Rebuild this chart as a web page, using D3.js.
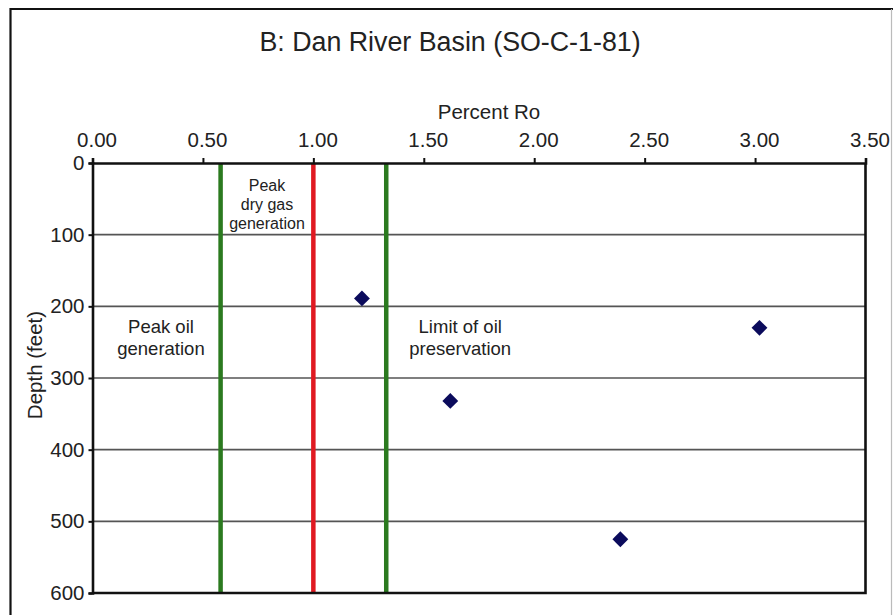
<!DOCTYPE html>
<html>
<head>
<meta charset="utf-8">
<script src="https://cdn.jsdelivr.net/npm/d3@7"></script>
<style>
  html, body { margin: 0; padding: 0; background: #fff; }
  svg { display: block; font-family: "Liberation Sans", Arial, sans-serif; }
</style>
</head>
<body>
<svg id="chart" width="893" height="615"></svg>
<script>
// Vitrinite reflectance samples: percent Ro vs. depth (feet)
const sampleRo    = [1.22, 3.02, 1.62, 2.39];
const sampleDepth = [189, 230, 332, 525];

// Maturity boundaries (percent Ro)
const boundaryRo     = [0.58, 1.00, 1.33];
const boundaryColors = ["#2b7a1f", "#e01a22", "#2b7a1f"];

// Axis ticks
const roTicks    = [0, 0.5, 1.0, 1.5, 2.0, 2.5, 3.0, 3.5];
const depthTicks = [0, 100, 200, 300, 400, 500, 600];

// Zone labels: [percent Ro anchor, depth anchor, lines, font size, line step]
const zoneLabels = [
  { ro: 0.31, depth: 237, lines: ["Peak oil", "generation"], size: 18.5, step: 22.5 },
  { ro: 0.79, depth: 38.5, lines: ["Peak", "dry gas", "generation"], size: 16, step: 19 },
  { ro: 1.665, depth: 237, lines: ["Limit of oil", "preservation"], size: 18.5, step: 22.5 }
];

const svg = d3.select("#chart");
const margin = { left: 92.5, right: 865.5, top: 163, bottom: 593 };

const x = d3.scaleLinear().domain([0, 3.5]).range([margin.left, margin.right]);
const y = d3.scaleLinear().domain([0, 600]).range([margin.top, margin.bottom]);

// Outer frame
svg.append("line").attr("x1", 10.5).attr("x2", 893).attr("y1", 9).attr("y2", 9)
  .attr("stroke", "#111").attr("stroke-width", 2.2);
svg.append("line").attr("x1", 10.5).attr("x2", 10.5).attr("y1", 8).attr("y2", 615)
  .attr("stroke", "#111").attr("stroke-width", 2.2);
svg.append("line").attr("x1", 891.5).attr("x2", 891.5).attr("y1", 9).attr("y2", 615)
  .attr("stroke", "#bbb").attr("stroke-width", 1.2);

// Title
svg.append("text").attr("x", 450).attr("y", 51).attr("text-anchor", "middle")
  .attr("font-size", 26.8).attr("fill", "#222")
  .text("B: Dan River Basin (SO-C-1-81)");

// Horizontal gridlines
svg.append("g").selectAll("line")
  .data(depthTicks.filter(d => d > 0 && d < 600))
  .join("line")
  .attr("x1", margin.left).attr("x2", margin.right)
  .attr("y1", d => y(d)).attr("y2", d => y(d))
  .attr("stroke", "#555").attr("stroke-width", 1.6);

// Maturity boundary lines
svg.append("g").selectAll("line")
  .data(boundaryRo)
  .join("line")
  .attr("x1", d => x(d)).attr("x2", d => x(d))
  .attr("y1", margin.top).attr("y2", margin.bottom)
  .attr("stroke", (d, i) => boundaryColors[i]).attr("stroke-width", 4.5);

// Plot frame (right and bottom)
svg.append("path")
  .attr("d", `M${margin.right},${margin.top}V${margin.bottom}H${margin.left}`)
  .attr("fill", "none").attr("stroke", "#111").attr("stroke-width", 2.6);

// Top axis: percent Ro
const xAxis = svg.append("g")
  .attr("transform", `translate(0,${margin.top})`)
  .call(d3.axisTop(x).tickValues(roTicks).tickFormat(d3.format(".2f")).tickSizeOuter(0).tickSize(5).tickPadding(11));
xAxis.select(".domain").attr("stroke", "#111").attr("stroke-width", 2.6);
xAxis.selectAll(".tick line").attr("stroke", "#111").attr("stroke-width", 2);
xAxis.selectAll(".tick text").attr("font-size", 20.5).attr("fill", "#222").attr("dx", 4)
  .attr("font-family", "Liberation Sans, Arial, sans-serif");

// Left axis: depth
const yAxis = svg.append("g")
  .attr("transform", `translate(${margin.left},0)`)
  .call(d3.axisLeft(y).tickValues(depthTicks).tickSizeOuter(0).tickSize(4).tickPadding(4));
yAxis.select(".domain").attr("stroke", "#111").attr("stroke-width", 2.6);
yAxis.selectAll(".tick line").attr("stroke", "#111").attr("stroke-width", 2);
yAxis.selectAll(".tick text").attr("font-size", 20.5).attr("fill", "#222")
  .attr("font-family", "Liberation Sans, Arial, sans-serif");

// Axis titles
svg.append("text").attr("x", 489).attr("y", 119).attr("text-anchor", "middle")
  .attr("font-size", 20.5).attr("fill", "#222").text("Percent Ro");
svg.append("text")
  .attr("transform", "translate(42,365) rotate(-90)")
  .attr("text-anchor", "middle").attr("font-size", 20.5).attr("fill", "#222")
  .text("Depth (feet)");

// Zone labels
zoneLabels.forEach(z => {
  const t = svg.append("text")
    .attr("x", x(z.ro)).attr("y", y(z.depth))
    .attr("text-anchor", "middle").attr("font-size", z.size).attr("fill", "#222");
  z.lines.forEach((line, i) => {
    t.append("tspan").attr("x", x(z.ro)).attr("dy", i === 0 ? 0 : z.step).text(line);
  });
});

// Sample points (diamonds)
const diamond = d3.symbol().type(d3.symbolDiamond2).size(160);
svg.append("g").selectAll("path")
  .data(sampleRo.map((r, i) => [r, sampleDepth[i]]))
  .join("path")
  .attr("d", diamond)
  .attr("transform", d => `translate(${x(d[0])},${y(d[1])})`)
  .attr("fill", "#0b0b5c");
</script>
</body>
</html>
